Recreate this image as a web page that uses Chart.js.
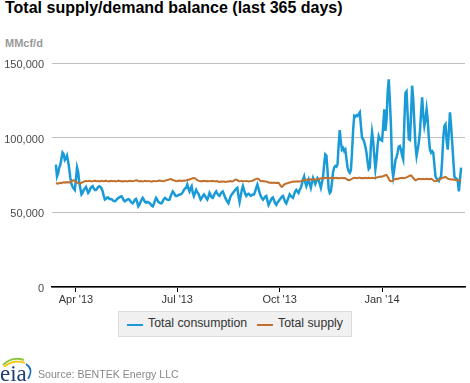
<!DOCTYPE html>
<html><head><meta charset="utf-8">
<script src="https://cdn.jsdelivr.net/npm/chart.js@4"></script>
<style>
html,body{margin:0;padding:0;background:#fff;}
body{width:470px;height:383px;position:relative;overflow:hidden;font-family:"Liberation Sans",Arial,sans-serif;}
#title{position:absolute;left:5px;top:-1px;font-size:16px;font-weight:bold;color:#000;white-space:nowrap;}
#unit{position:absolute;left:5px;top:37px;font-size:11px;font-weight:bold;color:#999;}
#c{position:absolute;left:0;top:0;}
#legend{position:absolute;left:118px;top:311px;width:232px;height:24px;background:#f0f0f0;border:1px solid #dcdcdc;}
.sw{position:absolute;top:12px;width:16px;height:2px;}
.lt{position:absolute;top:4px;font-size:12.3px;color:#333;white-space:nowrap;}
#src{position:absolute;left:38px;top:368px;font-size:10.6px;color:#888;white-space:nowrap;}
#logo{position:absolute;left:0;top:355px;}
</style></head>
<body>
<div id="title">Total supply/demand balance (last 365 days)</div>
<div id="unit">MMcf/d</div>
<canvas id="c" width="470" height="383"></canvas>
<div id="legend">
  <div class="sw" style="left:8px;background:#1a9bd7"></div>
  <div class="lt" style="left:29px">Total consumption</div>
  <div class="sw" style="left:138px;background:#c0702c"></div>
  <div class="lt" style="left:159px">Total supply</div>
</div>
<svg id="logo" width="36" height="28" viewBox="0 0 36 28">
  <path d="M3 10 Q12 1 24 5" stroke="#8cc63f" stroke-width="2" fill="none"/>
  <path d="M4 12 Q13 4 25 8" stroke="#f2c500" stroke-width="1.6" fill="none"/>
  <path d="M26 9 Q34 14 28 24" stroke="#1a6fb5" stroke-width="1.6" fill="none"/>
  <text x="0" y="26" font-family="Liberation Serif, Times New Roman, serif" font-size="23" fill="#1f3e73">eia</text>
</svg>
<div id="src">Source: BENTEK Energy LLC</div>
<script>
// Daily values, thousand MMcf/d, starting Mar 14 2013 (day 0) through Mar 13 2014 (day 364)
const consumption = [
82,74,76,80,82,86,90,89,85,86,88,84,79,73,69,67,66,65,72,80,
77,70,66,62,63,65,66,67,65,63,64,66,67,67.5,66,65,65,66,67,67.5,
67,66,64,61,58.5,59,60,60,59,59,58.8,58,57.5,57.4,58,59,59.5,60,60.5,60.8,
59.5,58,57.4,58,58.5,58.8,58.5,57.5,56.5,56,57,58.5,59,57,54,55,57,58.5,59.7,58.5,
57,56.5,57,56.8,56.3,55.5,54.5,54,55.5,58,59.7,58.5,57,56.5,56,56,57.5,59,59.7,59,
58.5,58.3,58.5,60.5,62.5,64,63,61.5,60.8,61,61.5,62,62,62.5,63.5,65,66,66.4,68.6,66,
64,66,67.5,63,60.8,63,65,63.5,62.5,60.5,58.5,59.5,61,62,61,59.5,58.5,60.5,63,61.5,
60,59.7,61.5,63,64,62.5,61.5,61,62.5,63.5,64,62,60,58.5,57,56,58.5,60.8,62,63,
64,65,65.8,66.4,61,57,61,65,67.5,65,62.5,61,62,62.5,62,61,61.5,62,62,64,
66.5,68.6,66,63,61,59.5,58.5,59.5,60.5,61,58,55,56.5,58,59.5,60,58,56,55,56.5,
57.5,58.5,59.5,60.5,61,59,57,56,58,60,62,61,60.2,59.7,62,64,65,64,63,65,
66.4,69,72,74,70,67.5,70,72,69,66.4,70,73,71,69,71,73,72,69,66.4,70,
74,82,88.8,88,78,66,63,64,70,77,80,81,80.5,82,95,105,97,92,93,91,
92,86,80,77.5,76.5,78,90,105,114.6,114,115,114.5,115.8,117,108,100,99,97,94,90,
84,79,80,95,103.6,98,88,79,85,95,101,99,98.5,98,108,119,104.5,112,130,139,
125,107.7,80,74,79,85,87,90,94,94.4,92,88,85.5,110,130,131,115,99,98.5,115,
134.8,125.8,110,95,87.7,92,96.7,104,116,127,115,107.9,112,119,112,100,92,90,91,90,
82,74,72.5,72,71,73,74,85,100,107.9,109,98,92,104,117,108,96.7,85,74,73,
72.5,71,64,72,80
];
const supply = [
69.3,69.5,69.2,69.6,69.8,69.5,69.9,70.1,69.8,70.2,70.0,
70.3,69.9,70.4,70.8,71.2,71.5,71.0,70.5,70.0,69.6,
69.3,69.5,69.8,70.2,70.5,70.9,71.0,70.8,70.9,71.1,
70.9,70.7,70.9,71.0,71.2,70.8,70.9,71.0,70.7,70.9,
71.1,70.9,70.8,71.0,71.2,70.9,70.7,71.0,70.9,71.1,
70.8,70.9,71.0,70.7,70.9,71.2,71.0,70.8,70.9,70.6,
70.8,71.0,70.9,70.7,70.9,71.1,71.0,70.8,70.9,71.0,
71.2,71.5,71.3,71.0,70.9,71.0,70.8,70.7,70.9,71.1,
70.9,70.8,71.0,70.9,70.7,70.6,70.8,71.0,70.9,70.8,
70.9,71.1,71.3,71.2,71.0,70.9,71.0,71.2,71.4,71.6,
71.8,72.1,72.3,72.0,71.6,71.4,71.2,71.0,70.9,71.1,
71.3,71.2,71.0,71.1,71.3,71.2,71.4,71.6,71.8,72.0,
72.3,72.6,72.8,73.0,72.7,72.2,71.6,71.2,71.0,70.9,
71.0,70.9,71.1,71.0,70.9,71.0,70.8,70.9,71.0,70.9,
71.1,70.9,70.7,70.8,70.9,70.5,70.4,70.6,70.5,70.7,
70.6,70.4,70.5,70.7,70.6,70.8,70.9,70.7,70.8,71.3,
71.8,72.0,71.6,71.0,70.8,70.9,71.0,70.9,70.8,70.9,
71.0,70.9,70.7,70.8,70.9,71.0,71.3,71.7,72.1,72.4,
72.6,72.2,71.6,71.0,70.8,70.9,70.8,70.7,70.6,70.4,
70.0,69.8,69.9,69.7,69.8,69.9,69.6,69.8,69.7,69.9,
68.8,67.6,67.0,67.8,68.6,69.0,69.3,69.5,69.8,70.0,
70.2,70.4,70.6,70.5,70.7,70.6,70.8,70.7,70.6,70.9,
71.1,71.3,71.5,71.7,71.9,72.0,71.8,72.0,72.1,71.9,
72.0,72.2,72.0,71.9,72.1,72.3,72.5,72.7,72.9,73.0,
72.8,73.0,73.1,72.9,73.0,72.8,73.0,73.2,73.0,72.9,
73.0,73.1,72.9,73.0,72.8,72.9,73.1,72.9,73.0,72.8,
72.3,71.8,71.5,71.6,72.0,72.5,72.9,73.0,73.1,72.9,
73.0,73.2,73.1,72.9,73.0,72.8,73.0,73.1,72.9,73.0,
73.2,73.0,72.9,73.1,73.0,72.8,73.0,73.3,73.5,73.6,
73.8,74.0,73.8,74.2,74.5,74.8,75.0,74.0,72.5,71.2,
70.9,71.0,71.5,72.0,72.3,72.5,72.4,72.6,72.8,73.0,
73.1,72.9,73.0,73.2,73.4,73.8,74.2,74.5,74.7,74.0,
73.0,72.2,71.5,71.8,72.2,72.4,72.3,72.1,72.3,72.4,
72.2,72.3,72.5,72.3,72.1,72.3,72.4,72.0,71.5,71.0,
70.9,71.0,71.4,71.8,72.2,72.6,72.9,73.2,73.5,73.8,
73.2,72.6,72.3,72.2,72.0,72.1,72.0,71.8,71.6,71.5,
71.4,71.6,71.5,71.5
];
const tickDays = [18, 109, 201, 293];
const tickLabels = ["Apr '13", "Jul '13", "Oct '13", "Jan '14"];
const yTicks = [0, 50, 100, 150];

const toXY = arr => arr.map((v, i) => ({x: i, y: v}));
const font = {family: '"Liberation Sans", Arial, sans-serif', size: 11};

new Chart(document.getElementById('c'), {
  type: 'line',
  data: {
    datasets: [
      {label: 'Total supply', data: toXY(supply), borderColor: '#c0702c', borderWidth: 2, pointRadius: 0, tension: 0, fill: false},
      {label: 'Total consumption', data: toXY(consumption), borderColor: '#1a9bd7', borderWidth: 2.5, pointRadius: 0, tension: 0, fill: false}
    ]
  },
  options: {
    responsive: false,
    animation: false,
    layout: {padding: {top: 63, right: 5, bottom: 76, left: 0}},
    plugins: {legend: {display: false}, tooltip: {enabled: false}},
    scales: {
      x: {
        type: 'linear', min: -3.5, max: 367.5,
        afterBuildTicks: s => { s.ticks = tickDays.map(v => ({value: v})); },
        afterFit: s => { s.height = 20; },
        grid: {drawOnChartArea: false, drawTicks: true, tickLength: 5, color: '#000'},
        border: {display: true, color: '#000', width: 1.5},
        ticks: {font: font, color: '#333', padding: 1, maxRotation: 0, autoSkip: false,
          callback: v => tickLabels[tickDays.indexOf(v)]}
      },
      y: {
        min: 0, max: 150,
        afterBuildTicks: s => { s.ticks = yTicks.map(v => ({value: v})); },
        afterFit: s => { s.width = 52; },
        grid: {color: '#c0c0c0', drawTicks: false, lineWidth: 1},
        border: {display: false},
        ticks: {font: font, color: '#4a4a4a', padding: 8, labelOffset: 2,
          callback: v => (v * 1000).toLocaleString('en-US')}
      }
    }
  }
});
</script>
</body></html>
